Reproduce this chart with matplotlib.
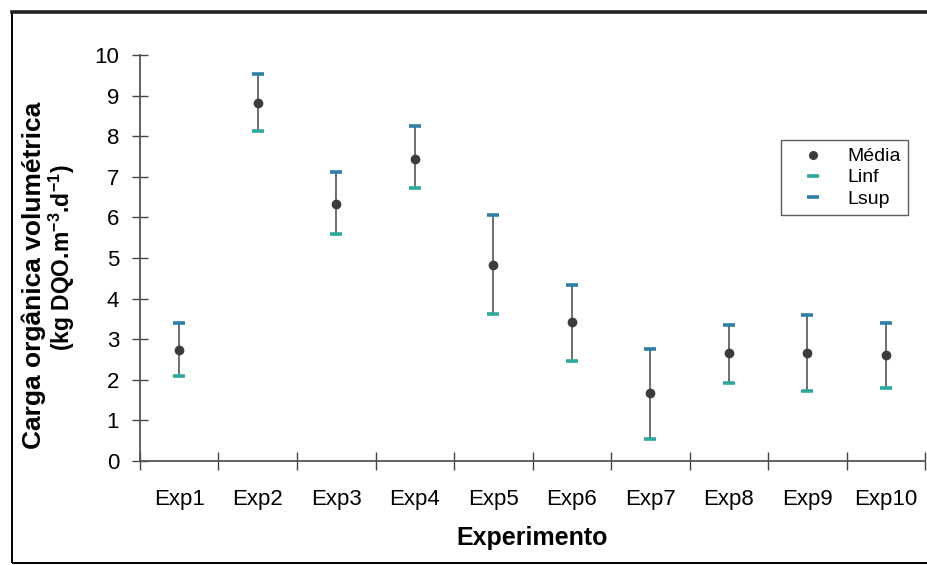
import matplotlib
matplotlib.use("Agg")
import matplotlib.pyplot as plt
from matplotlib.patches import Rectangle
from matplotlib.lines import Line2D

plt.rcParams['font.family'] = ['Liberation Sans', 'DejaVu Sans']
plt.rcParams['mathtext.fontset'] = 'custom'
plt.rcParams['mathtext.rm'] = 'Liberation Sans'
plt.rcParams['mathtext.bf'] = 'Liberation Sans:bold'

experimentos = ["Exp1", "Exp2", "Exp3", "Exp4", "Exp5",
                "Exp6", "Exp7", "Exp8", "Exp9", "Exp10"]
media = [2.73, 8.82, 6.33, 7.45, 4.82, 3.42, 1.68, 2.66, 2.65, 2.61]
linf = [2.10, 8.14, 5.58, 6.72, 3.61, 2.46, 0.54, 1.92, 1.73, 1.79]
lsup = [3.40, 9.52, 7.11, 8.24, 6.07, 4.33, 2.77, 3.36, 3.59, 3.40]
yticks = list(range(0, 11))

W, H = 928, 565
fig = plt.figure(figsize=(W / 100, H / 100), dpi=100)

# outer frame of the chart area
fig.patches.append(Rectangle((12 / W, 2 / H), 1.2, 551 / H, transform=fig.transFigure,
                             fill=False, edgecolor='black', linewidth=1.4))
fig.add_artist(Line2D([12 / W, 1.0], [1 - 12 / H, 1 - 12 / H], transform=fig.transFigure,
                      color='#222222', linewidth=2.6))

ax = fig.add_axes([140 / W, 1 - 461 / H, 785 / W, 406 / H])
x = list(range(len(experimentos)))

ax.vlines(x, linf, lsup, color='#555555', linewidth=1.2, zorder=2)
ax.plot(x, linf, linestyle='none', marker='_', markersize=9, markeredgewidth=2.6,
        color='#2fa89c', label='Linf', zorder=3)
ax.plot(x, lsup, linestyle='none', marker='_', markersize=9, markeredgewidth=2.6,
        color='#2f7ea6', label='Lsup', zorder=3)
ax.plot(x, media, linestyle='none', marker='o', markersize=6,
        color='#3c3c3c', label='Média', zorder=4)

ax.set_xlim(-0.5, len(experimentos) - 0.5)
ax.set_ylim(0, 10)
ax.set_yticks(yticks)
ax.set_xticks(x)
ax.set_xticklabels(experimentos)
ax.set_xticks([i - 0.5 for i in range(len(experimentos) + 1)], minor=True)
ax.tick_params(axis='x', which='major', length=0, pad=20, labelsize=16)
ax.tick_params(axis='x', which='minor', direction='inout', length=13, width=1, color='#444444')
ax.tick_params(axis='y', direction='inout', length=12, width=1, color='#444444',
               labelsize=16, pad=9)

for side in ('top', 'right'):
    ax.spines[side].set_visible(False)
for side in ('left', 'bottom'):
    ax.spines[side].set_color('#555555')
    ax.spines[side].set_linewidth(1.3)

ax.set_xlabel('Experimento', fontsize=18, fontweight='bold', labelpad=12)

# two-line y-axis title
fig.text(34 / W, 1 - 275 / H, 'Carga orgânica volumétrica', rotation=90,
         fontsize=19, fontweight='bold', ha='center', va='center')
fig.text(62 / W, 1 - 258 / H, r'(kg DQO.m$\mathbf{^{-3}}$.d$\mathbf{^{-1}}$)', rotation=90,
         fontsize=16.5, fontweight='bold', ha='center', va='center')

handles = [Line2D([], [], linestyle='none', marker='o', markersize=5.5, color='#3c3c3c'),
           Line2D([], [], linestyle='none', marker='_', markersize=8, markeredgewidth=2.6, color='#2fa89c'),
           Line2D([], [], linestyle='none', marker='_', markersize=8, markeredgewidth=2.6, color='#2f7ea6')]
leg = ax.legend(handles, ['Média', 'Linf', 'Lsup'], loc='upper left',
                bbox_to_anchor=((781 - 140) / 785, (461 - 140) / 406),
                frameon=True, fancybox=False, fontsize=14, handlelength=2.5,
                handletextpad=0.5, borderpad=0.4, labelspacing=0.18, borderaxespad=0)
leg.get_frame().set_edgecolor('#333333')
leg.get_frame().set_linewidth(1.0)

fig.savefig('out.png', dpi=100)
